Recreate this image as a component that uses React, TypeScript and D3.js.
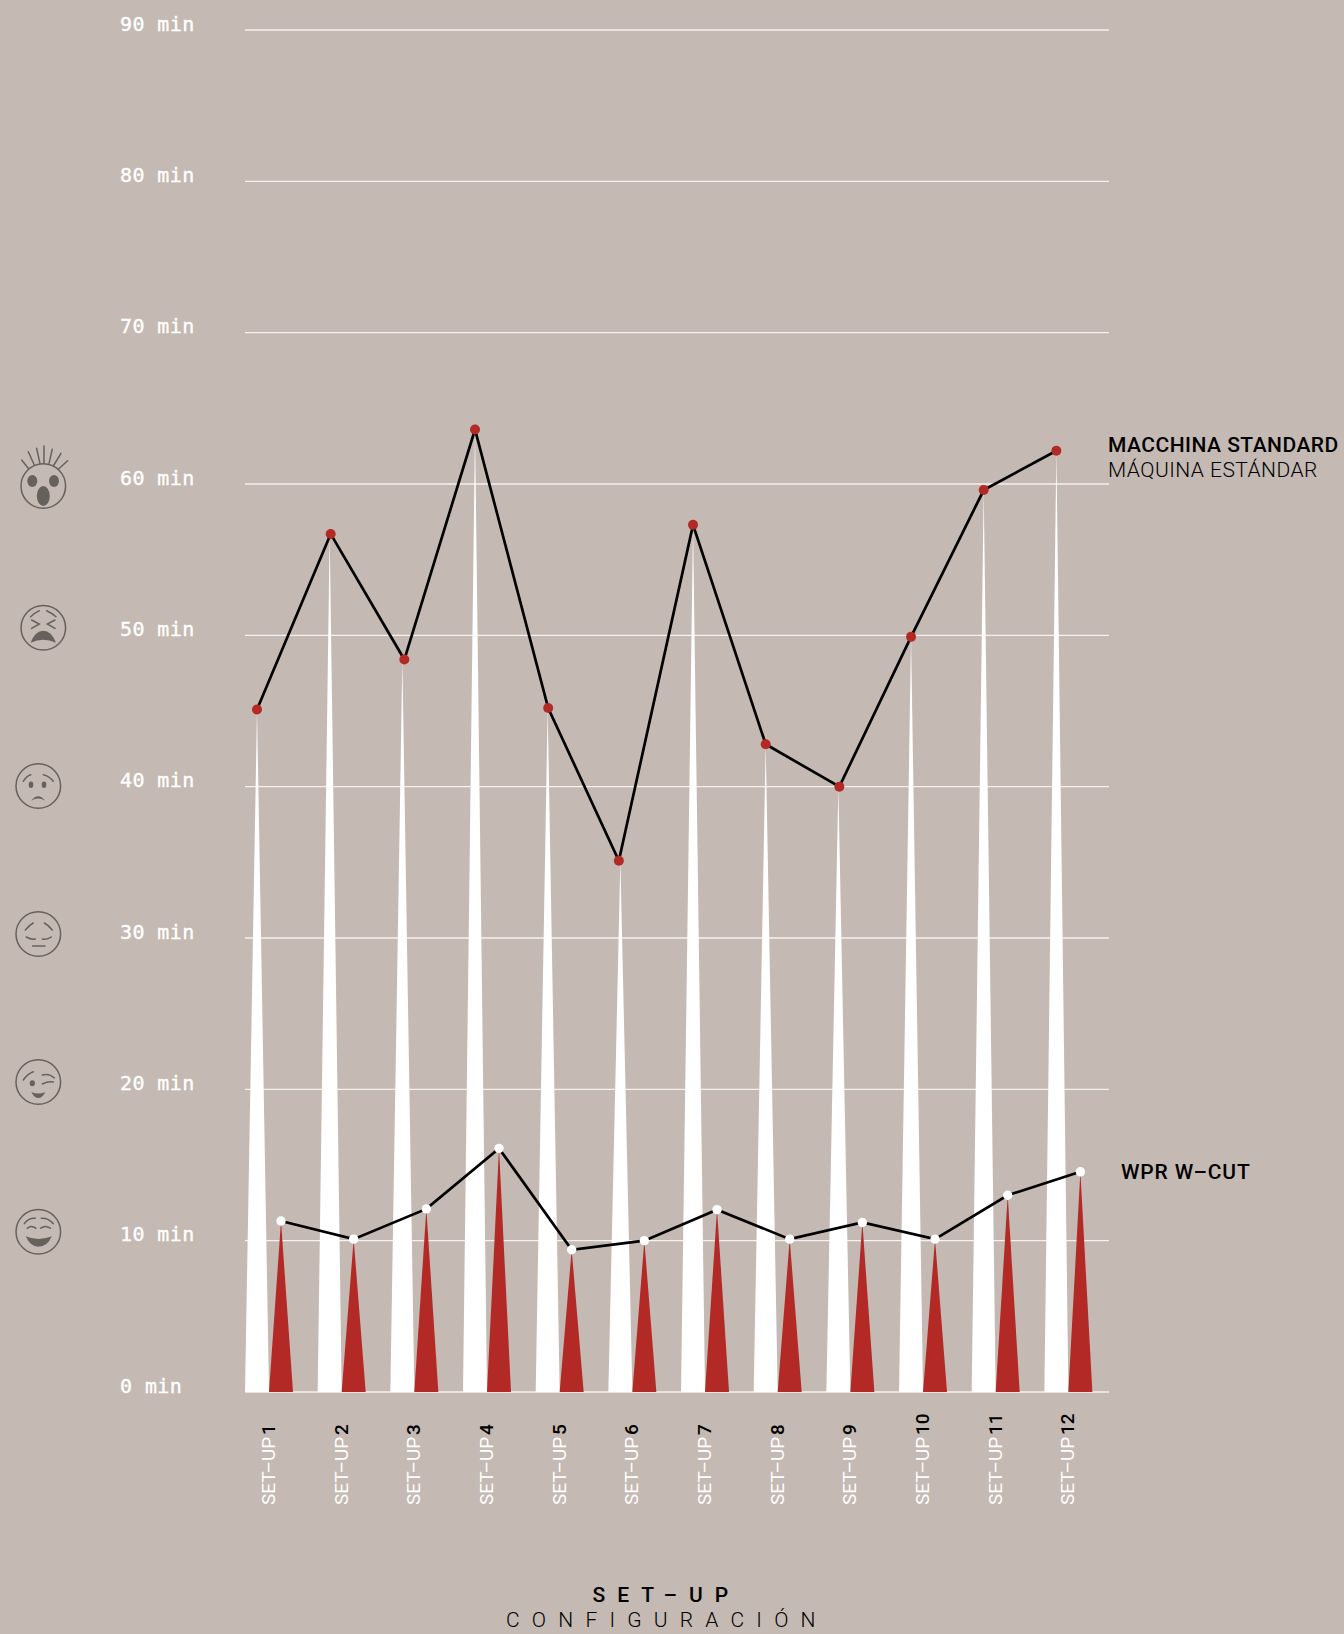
import React from 'react'
import * as d3 from 'd3'

const categories = ['1', '2', '3', '4', '5', '6', '7', '8', '9', '10', '11', '12']
const standardValues = [45.1, 56.7, 48.4, 63.6, 45.2, 35.1, 57.3, 42.8, 40, 49.9, 59.6, 62.2]
const wcutValues = [11.3, 10.1, 12.1, 16.1, 9.4, 10, 12.05, 10.1, 11.2, 10.1, 13, 14.55]
const tickValues = [0, 10, 20, 30, 40, 50, 60, 70, 80, 90]
// i punti della macchina standard non stanno sempre sulla punta del triangolo
const standardNudge = [0, 1, 2, 0, 0.5, -1.5, 0, 0, 1, 0, 0, 0]

const WIDTH = 1344
const HEIGHT = 1634
const BG = '#c5b9b3'
const RED = '#b22925'
const FACE = '#67615d'
const SANS = 'Roboto, sans-serif'
const MONO = '"DejaVu Sans Mono", monospace'

const x = d3.scaleBand<string>().domain(categories).range([245, 245 + 72.67 * 12])
const y = d3.scaleLinear().domain([0, 90]).range([1392, 30])
const SPIKE = 24

const whiteX = (c: string) => (x(c) as number) + SPIKE / 2
const redX = (c: string) => (x(c) as number) + SPIKE * 1.5
const dotX = (c: string, i: number) => whiteX(c) + standardNudge[i]

const toPath = d3.line<[number, number]>()
const spike = (cx: number, v: number) =>
  toPath([[cx - SPIKE / 2, y(0)], [cx, y(v)], [cx + SPIKE / 2, y(0)]]) + 'Z'

const standardLine = d3.line<number>().x((_, i) => dotX(categories[i], i)).y((d) => y(d))
const wcutLine = d3.line<number>().x((_, i) => redX(categories[i])).y((d) => y(d))

// faccine disegnate a mano, centro in 0,0
const Face = ({ cx, cy, strokes, fills, dots = [] }: any) => (
  <g transform={`translate(${cx},${cy})`} stroke={FACE} fill="none" strokeWidth={1.5} strokeLinecap="round">
    <circle r={22.3} />
    {strokes.map((d: string, i: number) => <path key={i} d={d} />)}
    {fills.map((d: string, i: number) => <path key={i} d={d} fill={FACE} stroke="none" />)}
    {dots.map((d: number[], i: number) => (
      <ellipse key={i} cx={d[0]} cy={d[1]} rx={d[2]} ry={d[3]} fill={FACE} stroke="none" />
    ))}
  </g>
)

export default function App() {
  return (
    <svg width={WIDTH} height={HEIGHT} style={{ position: 'absolute', left: 0, top: 0, display: 'block', background: BG }}>
      {/* griglia e tick */}
      {tickValues.map((t) => (
        <g key={t}>
          <line x1={245} x2={1109} y1={y(t)} y2={y(t)} stroke="#f4f1ee" strokeWidth={1.4} />
          <text
            x={120}
            y={y(t) + 0.5}
            fill="#fff"
            stroke="#fff"
            strokeWidth={0.35}
            fontFamily={MONO}
            fontSize={20}
            letterSpacing={0.4}
          >{`${t} min`}</text>
        </g>
      ))}

      {/* triangoli */}
      {categories.map((c, i) => <path key={c} d={spike(whiteX(c), standardValues[i])} fill="#fff" />)}
      {categories.map((c, i) => <path key={c} d={spike(redX(c), wcutValues[i])} fill={RED} />)}

      {/* linee */}
      <path d={standardLine(standardValues) as string} fill="none" stroke="#000" strokeWidth={2.7} />
      <path d={wcutLine(wcutValues) as string} fill="none" stroke="#000" strokeWidth={2.7} />
      {categories.map((c, i) => <circle key={c} cx={dotX(c, i)} cy={y(standardValues[i])} r={5} fill={RED} />)}
      {categories.map((c, i) => <circle key={c} cx={redX(c)} cy={y(wcutValues[i])} r={4.7} fill="#fff" />)}

      {/* etichette asse x */}
      {categories.map((c) => (
        <text
          key={c}
          transform={`translate(${(x(c) as number) + 30},1505) rotate(-90)`}
          fontFamily={SANS}
          fontSize={19}
          fill="#fff"
          wordSpacing={-3}
        >
          SET–UP <tspan fill="#000" fontWeight={500}>{c}</tspan>
        </text>
      ))}

      {/* legende */}
      <text x={1108} y={452} fontFamily={SANS} fontSize={21} fontWeight={500} fill="#000" letterSpacing={0.48}>MACCHINA STANDARD</text>
      <text x={1108} y={477} fontFamily={SANS} fontSize={21} fontWeight={300} fill="#000" letterSpacing={0.46}>MÁQUINA ESTÁNDAR</text>
      <text x={1121} y={1179} fontFamily={SANS} fontSize={21} fontWeight={500} fill="#000" letterSpacing={0.85}>WPR W–CUT</text>

      {/* titolo asse */}
      <text x={592.5} y={1602} fontFamily={SANS} fontSize={21} fontWeight={500} fill="#000" letterSpacing={12}>SET–UP</text>
      <text x={506} y={1627} fontFamily={SANS} fontSize={21} fontWeight={300} fill="#000" letterSpacing={12.2}>CONFIGURACIÓN</text>

      {/* faccine */}
      <Face
        cx={43.3}
        cy={486}
        strokes={[
          'M-21.7,-26L-15,-17.7', 'M-15,-34.3L-9,-21', 'M-6.7,-37.7L-3.3,-22.7', 'M0.7,-40L0.7,-22.7',
          'M9,-36.7L5.7,-22.7', 'M17.7,-32.7L10,-20', 'M24.3,-25.3L15,-16.7',
        ]}
        fills={[]}
        dots={[[-11, -5, 5, 6], [10.7, -5, 5, 6], [0, 10, 6.5, 10]]}
      />
      <Face
        cx={43.3}
        cy={627.7}
        strokes={[
          'M-12.7,-11Q-8,-15 -4,-17', 'M3.3,-17Q8,-15 12.7,-11',
          'M-11.7,-7.7L-4,-3.7L-11.7,0.7', 'M11.7,-7.7L4,-3.7L11.7,0.7',
        ]}
        fills={['M-12.7,15Q-8,3 0,3Q8,3 12.7,15Q0,9 -12.7,15Z']}
      />
      <Face
        cx={38.3}
        cy={786}
        strokes={['M-15,-4.7Q-12,-10 -7.5,-11.3', 'M5,-11.3Q11,-10 15,-4.7']}
        fills={['M-7,14.7Q0,6 6.7,14.7Q0,10.5 -7,14.7Z']}
        dots={[[-7.3, -1.3, 2.3, 3.3], [5.7, -1.3, 2.3, 3.3]]}
      />
      <Face
        cx={38.3}
        cy={934}
        strokes={[
          'M-13,-4Q-9,-9 -5,-11', 'M6,-11Q10,-9 14,-4',
          'M-12,3Q-7,6 -3,5', 'M4,5Q9,6 13,3', 'M-5.7,12H6.7',
        ]}
        fills={[]}
      />
      <Face
        cx={38.3}
        cy={1082}
        strokes={['M-15,-2Q-11,-8 -5,-10.3', 'M4,-7Q11,-9 16,-4', 'M4,2Q10,-1 15,0']}
        fills={['M-7,10Q0,13 7,10Q4,16 0,16Q-4,16 -7,10Z']}
        dots={[[-6, 1.3, 2.6, 3]]}
      />
      <Face
        cx={38.3}
        cy={1231.7}
        strokes={[
          'M-14,-8Q-10,-14 -3,-13.5', 'M3,-13.5Q10,-14 15,-8',
          'M-11,-3.5Q-7,-7 -2.5,-3.5', 'M2.5,-3.5Q7,-7 12,-3.5',
        ]}
        fills={['M-12.5,4.5Q0,10 13.5,4.5Q9,15 0,15Q-8,15 -12.5,4.5Z']}
      />
    </svg>
  )
}
